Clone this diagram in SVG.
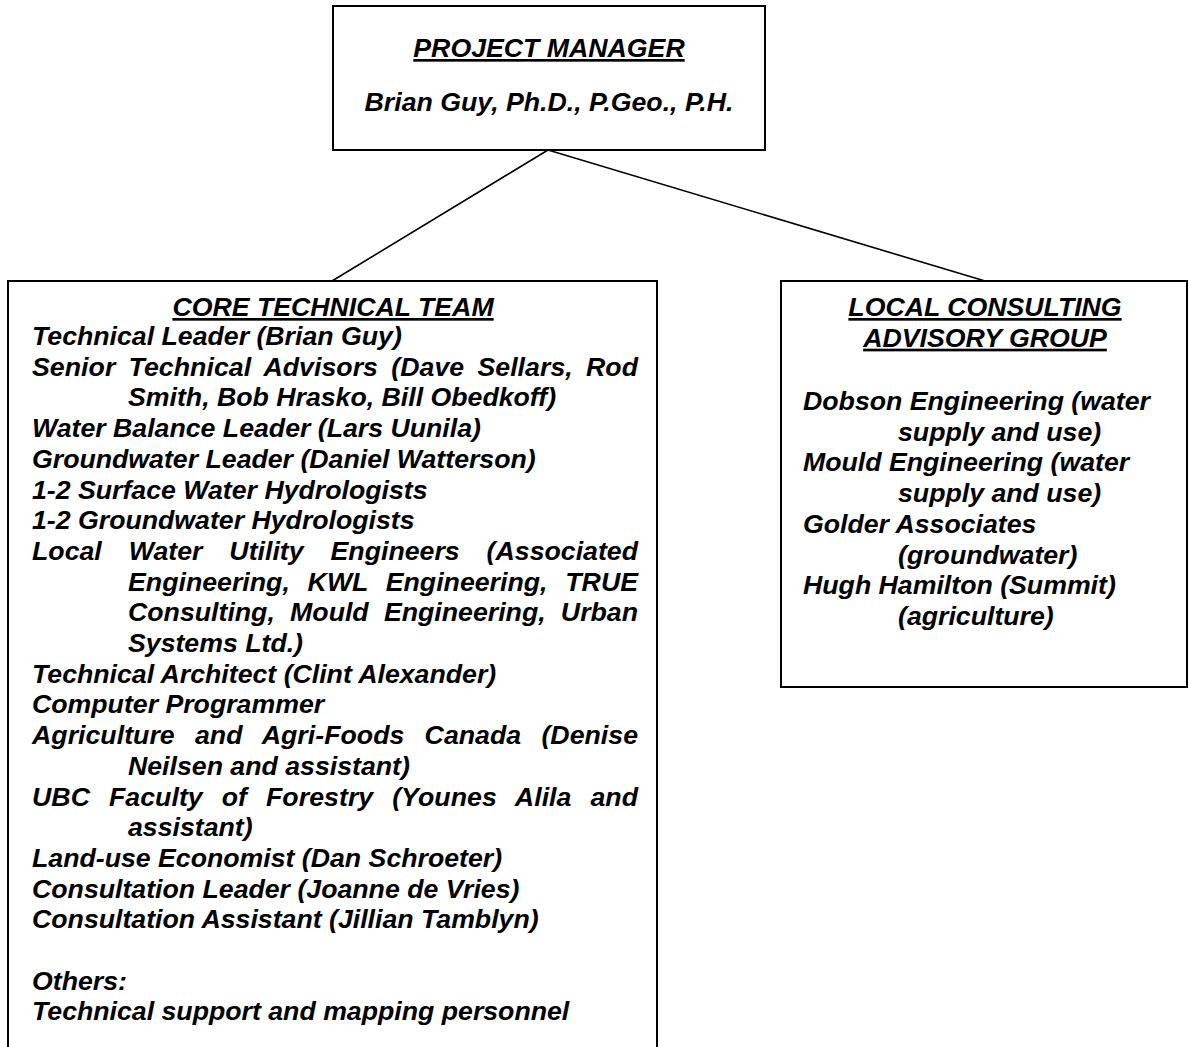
<svg xmlns="http://www.w3.org/2000/svg" width="1189" height="1047" viewBox="0 0 1189 1047">
<style>
.box{fill:#fff;stroke:#000;stroke-width:2}
.conn{stroke:#000;stroke-width:1.6;fill:none}
text{font-family:"Liberation Sans",Arial,sans-serif;font-weight:bold;font-style:italic;font-size:26.7px;fill:#000}
.h{text-anchor:middle;text-decoration:underline}
.c{text-anchor:middle}
</style>
<rect x="0" y="0" width="1189" height="1047" fill="#fff"/>
<g id="connectors">
<line class="conn" x1="548" y1="150" x2="332" y2="281"/>
<line class="conn" x1="548" y1="150" x2="985" y2="281"/>
</g>
<g id="project-manager">
<rect class="box" x="333" y="6" width="432" height="144"/>
<text class="h" x="549" y="57">PROJECT MANAGER</text>
<text class="c" x="549" y="111">Brian Guy, Ph.D., P.Geo., P.H.</text>
</g>
<g id="core-technical-team">
<rect class="box" x="8" y="281" width="649" height="800"/>
<text class="h" x="333" y="316">CORE TECHNICAL TEAM</text>
<text x="32" y="345">Technical Leader (Brian Guy)</text>
<text x="32" y="375.7" word-spacing="5.8" textLength="606" lengthAdjust="spacing">Senior Technical Advisors (Dave Sellars, Rod</text>
<text x="128" y="406.4">Smith, Bob Hrasko, Bill Obedkoff)</text>
<text x="32" y="437.1">Water Balance Leader (Lars Uunila)</text>
<text x="32" y="467.8">Groundwater Leader (Daniel Watterson)</text>
<text x="32" y="498.5">1-2 Surface Water Hydrologists</text>
<text x="32" y="529.2">1-2 Groundwater Hydrologists</text>
<text x="32" y="559.9" word-spacing="19.5" textLength="606" lengthAdjust="spacing">Local Water Utility Engineers (Associated</text>
<text x="128" y="590.6" word-spacing="10.3" textLength="510" lengthAdjust="spacing">Engineering, KWL Engineering, TRUE</text>
<text x="128" y="621.3" word-spacing="7.8" textLength="510" lengthAdjust="spacing">Consulting, Mould Engineering, Urban</text>
<text x="128" y="652">Systems Ltd.)</text>
<text x="32" y="682.7">Technical Architect (Clint Alexander)</text>
<text x="32" y="713.4">Computer Programmer</text>
<text x="32" y="744.1" word-spacing="12.8" textLength="606" lengthAdjust="spacing">Agriculture and Agri-Foods Canada (Denise</text>
<text x="128" y="774.8">Neilsen and assistant)</text>
<text x="32" y="805.5" word-spacing="11.5" textLength="606" lengthAdjust="spacing">UBC Faculty of Forestry (Younes Alila and</text>
<text x="128" y="836.2">assistant)</text>
<text x="32" y="866.9">Land-use Economist (Dan Schroeter)</text>
<text x="32" y="897.6">Consultation Leader (Joanne de Vries)</text>
<text x="32" y="928.3">Consultation Assistant (Jillian Tamblyn)</text>
<text x="32" y="989.7">Others:</text>
<text x="32" y="1020.4">Technical support and mapping personnel</text>
</g>
<g id="local-consulting-advisory-group">
<rect class="box" x="781" y="281" width="406" height="406"/>
<text class="h" x="985" y="316">LOCAL CONSULTING</text>
<text class="h" x="985" y="346.7">ADVISORY GROUP</text>
<text x="803" y="410">Dobson Engineering (water</text>
<text x="898" y="440.7">supply and use)</text>
<text x="803" y="471.4">Mould Engineering (water</text>
<text x="898" y="502.1">supply and use)</text>
<text x="803" y="532.8">Golder Associates</text>
<text x="898" y="563.5">(groundwater)</text>
<text x="803" y="594.2">Hugh Hamilton (Summit)</text>
<text x="898" y="624.9">(agriculture)</text>
</g>
</svg>
